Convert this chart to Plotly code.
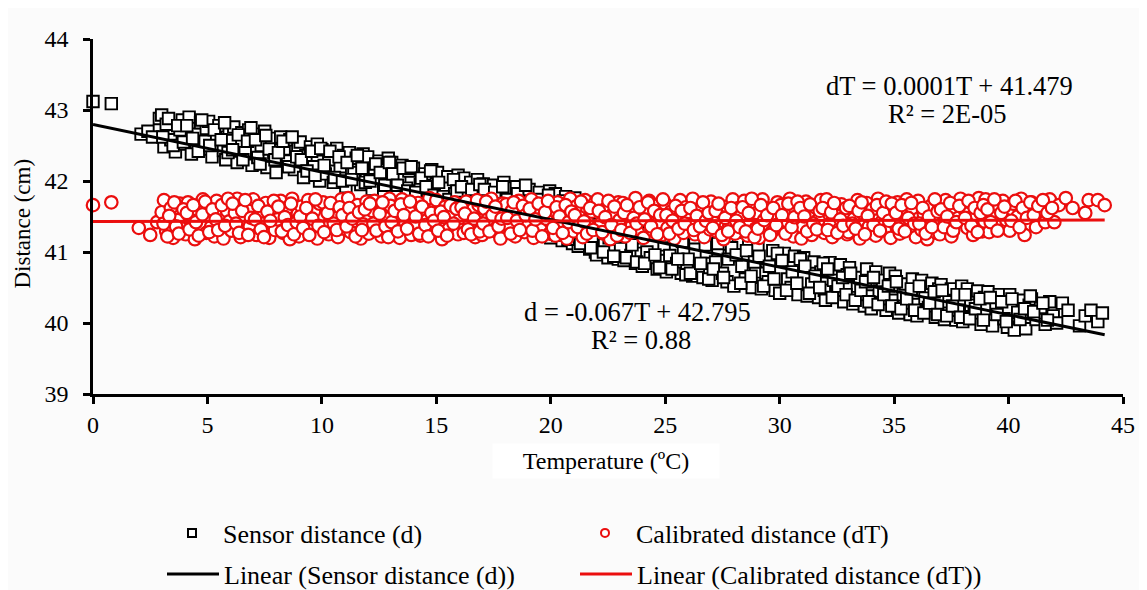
import plotly.graph_objects as go

# ---- Sensor distance (d) readings: temperature (ºC) and distance (cm) ----
sensor_T = [
    0.0, 0.8,
    2.1, 2.4, 2.6, 2.9,
    3.0, 3.1, 3.2, 3.4, 3.6, 3.8, 3.9,
    4.0, 4.2, 4.3, 4.5, 4.7, 4.8, 4.95,
    5.05, 5.2, 5.35, 5.5, 5.7, 5.8, 5.95,
    6.0, 6.15, 6.3, 6.5, 6.65, 6.8, 6.95,
    7.05, 7.2, 7.35, 7.5, 7.6, 7.8, 7.9,
    8.0, 8.2, 8.35, 8.5, 8.6, 8.8, 8.95,
    9.05, 9.2, 9.3, 9.5, 9.65, 9.8, 9.9,
    10.0, 10.15, 10.3, 10.5, 10.65, 10.8, 10.95,
    11.05, 11.2, 11.4, 11.5, 11.7, 11.8, 11.95,
    12.0, 12.2, 12.3, 12.5, 12.7, 12.8, 12.9,
    13.05, 13.2, 13.4, 13.5, 13.7, 13.8, 13.95,
    14.0, 14.2, 14.3, 14.5, 14.65, 14.8, 14.95,
    15.05, 15.2, 15.4, 15.5, 15.7, 15.8, 15.95,
    16.0, 16.2, 16.35, 16.5, 16.65, 16.8, 16.95,
    17.05, 17.2, 17.4, 17.5, 17.7, 17.8, 17.95,
    18.0, 18.2, 18.35, 18.5, 18.65, 18.8, 18.95,
    19.05, 19.2, 19.4, 19.5, 19.7, 19.8, 19.95,
    20.0, 20.2, 20.35, 20.5, 20.65, 20.8, 20.95,
    21.05, 21.2, 21.4, 21.5, 21.7, 21.8, 21.95,
    22.0, 22.2, 22.35, 22.5, 22.65, 22.8, 22.95,
    23.05, 23.2, 23.4, 23.5, 23.7, 23.8, 23.95,
    24.0, 24.2, 24.35, 24.5, 24.65, 24.8, 24.95,
    25.05, 25.2, 25.4, 25.5, 25.7, 25.8, 25.95,
    26.0, 26.2, 26.35, 26.5, 26.65, 26.8, 26.95,
    27.05, 27.2, 27.4, 27.5, 27.7, 27.8, 27.95,
    28.0, 28.2, 28.35, 28.5, 28.65, 28.8, 28.95,
    29.05, 29.2, 29.4, 29.5, 29.7, 29.8, 29.95,
    30.0, 30.2, 30.35, 30.5, 30.65, 30.8, 30.95,
    31.05, 31.2, 31.4, 31.5, 31.7, 31.8, 31.95,
    32.0, 32.2, 32.35, 32.5, 32.65, 32.8, 32.95,
    33.05, 33.2, 33.4, 33.5, 33.7, 33.8, 33.95,
    34.0, 34.2, 34.35, 34.5, 34.65, 34.8, 34.95,
    35.05, 35.2, 35.4, 35.5, 35.7, 35.8, 35.95,
    36.0, 36.2, 36.35, 36.5, 36.65, 36.8, 36.95,
    37.05, 37.2, 37.4, 37.5, 37.7, 37.8, 37.95,
    38.0, 38.2, 38.35, 38.5, 38.65, 38.8, 38.95,
    39.1, 39.3, 39.45, 39.6, 39.8, 39.95,
    40.05, 40.25, 40.4, 40.6, 40.75, 40.9,
    41.0, 41.2, 41.4, 41.6, 41.8, 41.95,
    42.1, 42.35, 42.6,
    43.1, 43.35, 43.6,
    43.9, 44.1,
]
sensor_d = [
    43.12, 43.09,
    42.66, 42.70, 42.62, 42.88,
    42.93, 42.48, 42.80, 42.58, 42.41, 42.72, 42.86,
    42.52, 42.90, 42.38, 42.66, 42.82, 42.45, 42.74,
    42.84, 42.34, 42.62, 42.78, 42.43, 42.30, 42.70,
    42.57, 42.76, 42.26, 42.68, 42.40, 42.72, 42.22,
    42.66, 42.33, 42.50, 42.70, 42.19, 42.60, 42.40,
    42.12, 42.62, 42.45, 42.28, 42.58, 42.16, 42.50,
    42.55, 42.05, 42.36, 42.48, 42.20, 42.52, 42.00,
    42.44, 42.10, 42.30, 41.98, 42.46, 42.20, 42.36,
    41.92, 42.40, 42.12, 42.32, 41.95, 42.38, 42.05,
    42.34, 41.88, 42.18, 42.28, 41.86, 42.08, 42.32,
    42.26, 41.82, 42.02, 42.22, 41.90, 42.14, 41.80,
    42.18, 41.75, 41.95, 42.10, 41.72, 42.16, 41.88,
    42.12, 41.68, 41.92, 42.06, 41.64, 41.82, 42.08,
    41.58, 42.04, 41.80, 41.98, 41.55, 42.02, 41.72,
    41.96, 41.50, 41.74, 41.94, 41.46, 41.65, 41.98,
    41.90, 41.40, 41.62, 41.92, 41.36, 41.55, 41.86,
    41.88, 41.30, 41.52, 41.84, 41.26, 41.45, 41.86,
    41.20, 41.82, 41.40, 41.16, 41.78, 41.30, 41.12,
    41.76, 41.08, 41.25, 41.70, 41.04, 41.18, 41.00,
    40.96, 41.68, 41.10, 40.92, 41.30, 41.02, 40.90,
    41.05, 40.88, 41.58, 40.95, 40.84, 41.20, 40.98,
    40.80, 41.00, 40.92, 41.50, 40.76, 40.88, 41.10,
    40.72, 40.95, 41.40, 40.84, 40.70, 41.05, 40.78,
    40.90, 40.66, 41.30, 40.80, 40.64, 41.00, 40.74,
    40.60, 40.86, 41.22, 40.70, 40.58, 40.95, 41.18,
    40.52, 41.12, 40.80, 40.62, 41.08, 40.50, 40.72,
    41.05, 40.48, 40.70, 40.58, 41.02, 40.46, 40.88,
    40.42, 40.98, 40.62, 40.50, 40.94, 40.40, 40.80,
    40.92, 40.38, 40.55, 40.86, 40.36, 40.72, 40.46,
    40.32, 40.85, 40.60, 40.44, 40.82, 40.30, 40.68,
    40.78, 40.27, 40.52, 40.64, 40.24, 40.76, 40.38,
    40.20, 40.72, 40.45, 40.60, 40.18, 40.70, 40.32,
    40.66, 40.14, 40.40, 40.55, 40.12, 40.62, 40.26,
    40.10, 40.60, 40.35, 40.22, 40.56, 40.08, 40.48,
    40.54, 40.05, 40.30, 40.48, 40.04, 40.18, 40.52,
    40.02, 40.48, 40.25, 40.12, 40.45, 39.98, 40.36,
    40.44, 39.96, 40.20, 40.40, 40.06, 39.94,
    40.40, 39.90, 40.15, 40.32, 39.92, 40.25,
    40.34, 40.05, 40.22, 39.98, 40.30, 40.10,
    40.00, 40.28, 40.18,
    39.96, 40.10, 40.18,
    40.02, 40.14,
]
# further sensor readings (second pass over the same temperature range)
sensor_T_b = [
    3.05, 3.3, 3.5, 3.7, 3.95,
    4.1, 4.35, 4.6, 4.75, 4.9,
    5.1, 5.3, 5.6, 5.75, 5.9,
    6.1, 6.35, 6.55, 6.75, 6.9,
    7.1, 7.3, 7.55, 7.7, 7.95,
    8.1, 8.3, 8.55, 8.7, 8.9,
    9.1, 9.35, 9.55, 9.7, 9.95,
    10.1, 10.35, 10.55, 10.75, 10.9,
    11.1, 11.3, 11.55, 11.75, 11.9,
    12.1, 12.35, 12.55, 12.75, 12.95,
    13.1, 13.3, 13.55, 13.75, 13.9,
    14.1, 14.35, 14.55, 14.75, 14.9,
    15.1, 15.3, 15.55, 15.75, 15.9,
    16.1, 16.3, 16.55, 16.75, 16.9,
    17.1, 17.3, 17.55, 17.75, 17.9,
    18.1, 18.3, 18.55, 18.75, 18.9,
    19.1, 19.3, 19.55, 19.75, 19.9,
    20.1, 20.3, 20.55, 20.75, 20.9,
    21.1, 21.3, 21.55, 21.75, 21.9,
    22.1, 22.3, 22.55, 22.75, 22.9,
    23.1, 23.3, 23.55, 23.75, 23.9,
    24.1, 24.3, 24.55, 24.75, 24.9,
    25.1, 25.3, 25.55, 25.75, 25.9,
    26.1, 26.3, 26.55, 26.75, 26.9,
    27.1, 27.3, 27.55, 27.75, 27.9,
    28.1, 28.3, 28.55, 28.75, 28.9,
    29.1, 29.3, 29.55, 29.75, 29.9,
    30.1, 30.3, 30.55, 30.75, 30.9,
    31.1, 31.3, 31.55, 31.75, 31.9,
    32.1, 32.3, 32.55, 32.75, 32.9,
    33.1, 33.3, 33.55, 33.75, 33.9,
    34.1, 34.3, 34.55, 34.75, 34.9,
    35.1, 35.3, 35.55, 35.75, 35.9,
    36.1, 36.3, 36.55, 36.75, 36.9,
    37.1, 37.3, 37.55, 37.75, 37.9,
    38.1, 38.3, 38.55, 38.75, 38.9,
    39.2, 39.5, 39.7, 39.9,
    40.15, 40.5, 40.7, 40.95,
    41.1, 41.5, 41.7,
]
sensor_d_b = [
    42.62, 42.88, 42.50, 42.78, 42.55,
    42.78, 42.60, 42.42, 42.86, 42.56,
    42.50, 42.72, 42.58, 42.82, 42.40,
    42.44, 42.65, 42.30, 42.56, 42.75,
    42.58, 42.24, 42.64, 42.45, 42.30,
    42.40, 42.56, 42.20, 42.62, 42.34,
    42.30, 42.14, 42.42, 42.08, 42.46,
    42.22, 42.42, 42.05, 42.34, 42.00,
    42.26, 42.02, 42.36, 42.18, 41.98,
    42.00, 42.24, 42.12, 41.94, 42.26,
    42.10, 41.94, 42.18, 41.86, 42.20,
    41.84, 42.04, 41.92, 42.14, 41.80,
    41.98, 41.78, 41.74, 42.02, 41.86,
    41.92, 41.66, 41.88, 41.62, 41.95,
    41.88, 41.60, 41.84, 41.56, 41.92,
    41.74, 41.50, 41.82, 41.46, 41.94,
    41.62, 41.36, 41.74, 41.40, 41.80,
    41.60, 41.24, 41.72, 41.18, 41.50,
    41.40, 41.12, 41.62, 41.06, 41.34,
    41.55, 41.00, 41.20, 40.94, 41.62,
    41.45, 40.92, 41.10, 40.86, 41.30,
    40.84, 41.36, 40.96, 40.78, 41.22,
    41.30, 40.76, 40.90, 41.15, 40.68,
    40.70, 41.20, 40.84, 41.10, 40.62,
    40.76, 41.12, 40.64, 40.90, 41.06,
    40.96, 40.56, 41.02, 40.66, 40.86,
    40.94, 40.52, 40.80, 40.62, 40.98,
    40.88, 40.46, 40.72, 40.56, 40.90,
    40.80, 40.42, 40.66, 40.50, 40.84,
    40.76, 40.36, 40.52, 40.64, 40.40,
    40.70, 40.32, 40.46, 40.58, 40.30,
    40.64, 40.26, 40.40, 40.52, 40.24,
    40.58, 40.20, 40.34, 40.48, 40.18,
    40.52, 40.14, 40.28, 40.44, 40.12,
    40.46, 40.10, 40.24, 40.40, 40.08,
    40.40, 40.06, 40.20, 40.34, 40.04,
    40.36, 40.12, 40.30, 40.02,
    40.34, 40.05, 40.20, 40.38,
    40.16, 40.28, 40.04,
]

# ---- Calibrated distance (dT) readings ----
calib_T = [
    0.0, 0.8,
    2.0, 2.5, 2.8,
    3.0, 3.1, 3.2, 3.4, 3.5, 3.7, 3.8, 3.9,
    4.05, 4.15, 4.3, 4.45, 4.55, 4.7, 4.8, 4.95,
    5.0, 5.15, 5.3, 5.4, 5.55, 5.7, 5.85, 5.95,
    6.05, 6.2, 6.3, 6.45, 6.6, 6.7, 6.85, 6.95,
    7.0, 7.15, 7.25, 7.4, 7.55, 7.7, 7.8, 7.95,
    8.05, 8.2, 8.3, 8.45, 8.6, 8.7, 8.85, 8.95,
    9.0, 9.1, 9.25, 9.4, 9.5, 9.65, 9.8, 9.9,
    10.05, 10.2, 10.3, 10.45, 10.6, 10.7, 10.85, 10.95,
    11.0, 11.15, 11.25, 11.4, 11.55, 11.7, 11.8, 11.95,
    12.05, 12.2, 12.3, 12.45, 12.6, 12.7, 12.85, 12.95,
    13.0, 13.1, 13.25, 13.4, 13.5, 13.65, 13.8, 13.9,
    14.05, 14.2, 14.3, 14.45, 14.6, 14.7, 14.85, 14.95,
    15.0, 15.15, 15.25, 15.4, 15.55, 15.7, 15.8, 15.95,
    16.05, 16.2, 16.3, 16.45, 16.6, 16.7, 16.85, 16.95,
    17.0, 17.1, 17.25, 17.4, 17.5, 17.65, 17.8, 17.9,
    18.05, 18.2, 18.3, 18.45, 18.6, 18.7, 18.85, 18.95,
    19.0, 19.15, 19.25, 19.4, 19.55, 19.7, 19.8, 19.95,
    20.05, 20.2, 20.3, 20.45, 20.6, 20.7, 20.85, 20.95,
    21.0, 21.1, 21.25, 21.4, 21.5, 21.65, 21.8, 21.9,
    22.05, 22.2, 22.3, 22.45, 22.6, 22.7, 22.85, 22.95,
    23.0, 23.15, 23.25, 23.4, 23.55, 23.7, 23.8, 23.95,
    24.05, 24.2, 24.3, 24.45, 24.6, 24.7, 24.85, 24.95,
    25.0, 25.1, 25.25, 25.4, 25.5, 25.65, 25.8, 25.9,
    26.05, 26.2, 26.3, 26.45, 26.6, 26.7, 26.85, 26.95,
    27.0, 27.15, 27.25, 27.4, 27.55, 27.7, 27.8, 27.95,
    28.05, 28.2, 28.3, 28.45, 28.6, 28.7, 28.85, 28.95,
    29.0, 29.1, 29.25, 29.4, 29.5, 29.65, 29.8, 29.9,
    30.05, 30.2, 30.3, 30.45, 30.6, 30.7, 30.85, 30.95,
    31.0, 31.15, 31.25, 31.4, 31.55, 31.7, 31.8, 31.95,
    32.05, 32.2, 32.3, 32.45, 32.6, 32.7, 32.85, 32.95,
    33.0, 33.1, 33.25, 33.4, 33.5, 33.65, 33.8, 33.9,
    34.05, 34.2, 34.3, 34.45, 34.6, 34.7, 34.85, 34.95,
    35.0, 35.15, 35.25, 35.4, 35.55, 35.7, 35.8, 35.95,
    36.05, 36.2, 36.3, 36.45, 36.6, 36.7, 36.85, 36.95,
    37.0, 37.1, 37.25, 37.4, 37.5, 37.65, 37.8, 37.9,
    38.05, 38.2, 38.3, 38.45, 38.6, 38.7, 38.85, 38.95,
    39.0, 39.15, 39.3, 39.45, 39.6, 39.75, 39.9,
    40.05, 40.2, 40.4, 40.55, 40.7, 40.85,
    41.0, 41.2, 41.4, 41.6, 41.8,
    42.0, 42.2, 42.5, 42.8,
    43.35, 43.5, 43.9,
    44.2,
]
calib_d = [
    41.66, 41.70,
    41.34, 41.24, 41.42,
    41.56, 41.73, 41.29, 41.62, 41.20, 41.45, 41.68, 41.33,
    41.25, 41.70, 41.48, 41.18, 41.60, 41.38, 41.74, 41.27,
    41.66, 41.35, 41.22, 41.72, 41.50, 41.19, 41.58, 41.43,
    41.30, 41.55, 41.75, 41.21, 41.44, 41.67, 41.36, 41.62,
    41.74, 41.24, 41.52, 41.40, 41.69, 41.20, 41.58, 41.31,
    41.46, 41.72, 41.27, 41.61, 41.18, 41.75, 41.35, 41.54,
    41.22, 41.64, 41.42, 41.73, 41.30, 41.57, 41.19, 41.68,
    41.70, 41.37, 41.25, 41.60, 41.48, 41.21, 41.74, 41.33,
    41.52, 41.76, 41.28, 41.44, 41.66, 41.19, 41.39, 41.71,
    41.26, 41.58, 41.72, 41.34, 41.22, 41.63, 41.47, 41.75,
    41.65, 41.31, 41.50, 41.20, 41.74, 41.41, 41.60, 41.24,
    41.36, 41.69, 41.23, 41.56, 41.45, 41.76, 41.29, 41.62,
    41.73, 41.42, 41.18, 41.64, 41.33, 41.53, 41.70, 41.25,
    41.48, 41.27, 41.71, 41.39, 41.60, 41.21, 41.66, 41.44,
    41.24, 41.61, 41.46, 41.75, 41.30, 41.55, 41.19, 41.68,
    41.67, 41.35, 41.58, 41.22, 41.72, 41.43, 41.28, 41.62,
    41.40, 41.74, 41.20, 41.55, 41.32, 41.66, 41.47, 41.26,
    41.59, 41.23, 41.70, 41.38, 41.51, 41.19, 41.75, 41.44,
    41.29, 41.64, 41.49, 41.21, 41.73, 41.36, 41.57, 41.68,
    41.74, 41.41, 41.26, 41.62, 41.18, 41.53, 41.33, 41.70,
    41.45, 41.69, 41.22, 41.58, 41.37, 41.76, 41.28, 41.51,
    41.20, 41.54, 41.72, 41.31, 41.65, 41.42, 41.24, 41.61,
    41.68, 41.34, 41.57, 41.19, 41.46, 41.73, 41.27, 41.63,
    41.39, 41.75, 41.25, 41.60, 41.48, 41.21, 41.66, 41.32,
    41.71, 41.43, 41.29, 41.56, 41.18, 41.64, 41.37, 41.74,
    41.26, 41.62, 41.50, 41.72, 41.23, 41.41, 41.68, 41.33,
    41.55, 41.20, 41.74, 41.36, 41.61, 41.28, 41.47, 41.70,
    41.66, 41.30, 41.44, 41.75, 41.22, 41.58, 41.39, 41.19,
    41.35, 41.71, 41.56, 41.24, 41.63, 41.45, 41.73, 41.27,
    41.74, 41.40, 41.21, 41.59, 41.32, 41.67, 41.50, 41.25,
    41.28, 41.62, 41.47, 41.73, 41.19, 41.54, 41.69, 41.36,
    41.60, 41.23, 41.75, 41.42, 41.30, 41.66, 41.20, 41.52,
    41.44, 41.70, 41.26, 41.58, 41.74, 41.34, 41.62, 41.21,
    41.72, 41.31, 41.53, 41.18, 41.65, 41.45, 41.27, 41.69,
    41.25, 41.57, 41.73, 41.38, 41.22, 41.63, 41.48, 41.75,
    41.61, 41.34, 41.70, 41.24, 41.52, 41.76, 41.29, 41.43,
    41.74, 41.28, 41.56, 41.67, 41.36, 41.72, 41.45,
    41.30, 41.68, 41.50, 41.75, 41.24, 41.60,
    41.70, 41.35, 41.58, 41.42, 41.74,
    41.42, 41.66, 41.76, 41.62,
    41.55, 41.73, 41.73,
    41.66,
]
# further calibrated readings (second pass over the same temperature range)
calib_T_b = [
    3.08, 3.25, 3.33, 3.55, 3.63, 3.75, 3.95,
    4.1, 4.22, 4.38, 4.5, 4.62, 4.78, 4.9,
    5.08, 5.22, 5.36, 5.47, 5.63, 5.77, 5.9,
    6.1, 6.25, 6.38, 6.52, 6.65, 6.78, 6.9,
    7.08, 7.22, 7.33, 7.47, 7.62, 7.75, 7.9,
    8.1, 8.25, 8.38, 8.52, 8.65, 8.78, 8.9,
    9.05, 9.18, 9.32, 9.45, 9.58, 9.72, 9.85,
    10.1, 10.25, 10.38, 10.52, 10.65, 10.78, 10.9,
    11.08, 11.2, 11.33, 11.47, 11.62, 11.75, 11.88,
    12.1, 12.25, 12.38, 12.52, 12.65, 12.78, 12.9,
    13.05, 13.18, 13.32, 13.45, 13.58, 13.72, 13.85,
    14.1, 14.25, 14.38, 14.52, 14.65, 14.78, 14.9,
    15.08, 15.2, 15.33, 15.47, 15.62, 15.75, 15.88,
    16.1, 16.25, 16.38, 16.52, 16.65, 16.78, 16.9,
    17.05, 17.18, 17.32, 17.45, 17.58, 17.72, 17.85,
    18.1, 18.25, 18.38, 18.52, 18.65, 18.78, 18.9,
    19.08, 19.2, 19.33, 19.47, 19.62, 19.75, 19.88,
    20.1, 20.25, 20.38, 20.52, 20.65, 20.78, 20.9,
    21.05, 21.18, 21.32, 21.45, 21.58, 21.72, 21.85,
    22.1, 22.25, 22.38, 22.52, 22.65, 22.78, 22.9,
    23.08, 23.2, 23.33, 23.47, 23.62, 23.75, 23.88,
    24.1, 24.25, 24.38, 24.52, 24.65, 24.78, 24.9,
    25.05, 25.18, 25.32, 25.45, 25.58, 25.72, 25.85,
    26.1, 26.25, 26.38, 26.52, 26.65, 26.78, 26.9,
    27.08, 27.2, 27.33, 27.47, 27.62, 27.75, 27.88,
    28.1, 28.25, 28.38, 28.52, 28.65, 28.78, 28.9,
    29.05, 29.18, 29.32, 29.45, 29.58, 29.72, 29.85,
    30.1, 30.25, 30.38, 30.52, 30.65, 30.78, 30.9,
    31.08, 31.2, 31.33, 31.47, 31.62, 31.75, 31.88,
    32.1, 32.25, 32.38, 32.52, 32.65, 32.78, 32.9,
    33.05, 33.18, 33.32, 33.45, 33.58, 33.72, 33.85,
    34.1, 34.25, 34.38, 34.52, 34.65, 34.78, 34.9,
    35.08, 35.2, 35.33, 35.47, 35.62, 35.75, 35.88,
    36.1, 36.25, 36.38, 36.52, 36.65, 36.78, 36.9,
    37.05, 37.18, 37.32, 37.45, 37.58, 37.72, 37.85,
    38.1, 38.25, 38.38, 38.52, 38.65, 38.78, 38.9,
    39.08, 39.22, 39.38, 39.52, 39.68, 39.82,
    40.12, 40.3, 40.48, 40.62, 40.8, 40.95,
    41.1, 41.3, 41.5, 41.7, 41.9,
]
calib_d_b = [
    41.40, 41.22, 41.51, 41.70, 41.36, 41.26, 41.60,
    41.55, 41.32, 41.66, 41.42, 41.23, 41.53, 41.71,
    41.28, 41.60, 41.46, 41.31, 41.66, 41.37, 41.75,
    41.68, 41.40, 41.27, 41.58, 41.73, 41.24, 41.48,
    41.46, 41.65, 41.32, 41.21, 41.57, 41.44, 41.72,
    41.64, 41.29, 41.49, 41.38, 41.68, 41.25, 41.42,
    41.50, 41.34, 41.62, 41.24, 41.47, 41.74, 41.37,
    41.28, 41.55, 41.69, 41.40, 41.31, 41.63, 41.52,
    41.36, 41.62, 41.47, 41.22, 41.56, 41.31, 41.60,
    41.68, 41.40, 41.30, 41.54, 41.70, 41.36, 41.21,
    41.42, 41.58, 41.29, 41.67, 41.52, 41.33, 41.71,
    41.50, 41.26, 41.64, 41.38, 41.22, 41.55, 41.44,
    41.30, 41.57, 41.49, 41.23, 41.66, 41.40, 41.61,
    41.63, 41.54, 41.32, 41.25, 41.47, 41.73, 41.29,
    41.40, 41.71, 41.29, 41.52, 41.64, 41.36, 41.47,
    41.48, 41.26, 41.70, 41.44, 41.31, 41.65, 41.52,
    41.61, 41.30, 41.46, 41.68, 41.22, 41.56, 41.72,
    41.34, 41.63, 41.50, 41.27, 41.66, 41.42, 41.57,
    41.52, 41.35, 41.71, 41.43, 41.26, 41.62, 41.31,
    41.58, 41.28, 41.49, 41.72, 41.38, 41.64, 41.23,
    41.31, 41.55, 41.66, 41.27, 41.48, 41.40, 41.63,
    41.46, 41.70, 41.36, 41.58, 41.25, 41.52, 41.74,
    41.52, 41.26, 41.44, 41.65, 41.33, 41.58, 41.40,
    41.62, 41.31, 41.51, 41.36, 41.70, 41.44, 41.55,
    41.34, 41.58, 41.68, 41.24, 41.48, 41.29, 41.62,
    41.44, 41.35, 41.63, 41.29, 41.55, 41.75, 41.21,
    41.33, 41.66, 41.45, 41.52, 41.24, 41.62, 41.38,
    41.52, 41.26, 41.68, 41.35, 41.49, 41.71, 41.62,
    41.50, 41.29, 41.67, 41.40, 41.32, 41.58, 41.62,
    41.31, 41.56, 41.69, 41.27, 41.46, 41.37, 41.62,
    41.65, 41.40, 41.33, 41.58, 41.70, 41.25, 41.51,
    41.38, 41.66, 41.30, 41.55, 41.71, 41.44, 41.68,
    41.55, 41.33, 41.66, 41.29, 41.48, 41.69, 41.40,
    41.40, 41.62, 41.26, 41.50, 41.35, 41.74, 41.57,
    41.60, 41.35, 41.50, 41.69, 41.30, 41.42, 41.65,
    41.48, 41.72, 41.37, 41.62, 41.28, 41.55, 41.66,
    41.60, 41.42, 41.74, 41.30, 41.55, 41.64,
    41.44, 41.72, 41.35, 41.62, 41.48, 41.70,
    41.52, 41.65, 41.73, 41.55, 41.62,
]

# ---- Linear trend lines (end points) ----
fit_T = [0.0, 44.2]
sensor_fit = [42.795, 39.834]
calib_fit = [41.43, 41.45]

# ---- Axis ticks and texts ----
x_ticks = [0, 5, 10, 15, 20, 25, 30, 35, 40, 45]
y_ticks = [39, 40, 41, 42, 43, 44]
eq_calib = ["dT = 0.0001T + 41.479", "R² = 2E-05"]
eq_sensor = ["d = -0.067T + 42.795", "R² = 0.88"]

FONT = "Liberation Serif, Times New Roman, serif"
RED = "rgb(235,14,14)"

# figure is placed 8 px from the page corner (default body margin);
# it is made slightly taller than the window so the lower legend row is not clipped
W, H = 1139, 600
ML, MR, MT = 85, 16, 31
PLOT_BOTTOM = 386
MB = H - PLOT_BOTTOM
PW, PH = W - ML - MR, H - MT - MB


def px_x(page_x):  # page pixel -> paper x
    return (page_x - 8 - ML) / PW


def px_y(page_y):  # page pixel -> paper y
    return (H - MB - (page_y - 8)) / PH


def cont_y(page_y):  # page pixel -> container y
    return (H - (page_y - 8)) / H


fig = go.Figure()
fig.add_trace(go.Scatter(
    x=sensor_T + sensor_T_b, y=sensor_d + sensor_d_b, mode="markers",
    showlegend=False, cliponaxis=False,
    marker=dict(symbol="square", size=11.5, color="white",
                line=dict(color="black", width=1.9))))
fig.add_trace(go.Scatter(
    x=calib_T + calib_T_b, y=calib_d + calib_d_b, mode="markers",
    showlegend=False, cliponaxis=False,
    marker=dict(symbol="circle", size=12.5, color="white",
                line=dict(color=RED, width=2.2))))
fig.add_trace(go.Scatter(
    x=fit_T, y=sensor_fit, mode="lines", showlegend=False,
    line=dict(color="black", width=3)))
fig.add_trace(go.Scatter(
    x=fit_T, y=calib_fit, mode="lines", showlegend=False,
    line=dict(color=RED, width=3)))

# legend entries
fig.add_trace(go.Scatter(
    x=[None], y=[None], mode="markers", name="Sensor distance (d)", legend="legend",
    marker=dict(symbol="square", size=8, color="white", line=dict(color="black", width=2))))
fig.add_trace(go.Scatter(
    x=[None], y=[None], mode="markers", name="Calibrated distance (dT)", legend="legend",
    marker=dict(symbol="circle", size=8, color="white", line=dict(color=RED, width=2))))
fig.add_trace(go.Scatter(
    x=[None], y=[None], mode="lines", name="Linear (Sensor distance (d))", legend="legend2",
    line=dict(color="black", width=3)))
fig.add_trace(go.Scatter(
    x=[None], y=[None], mode="lines", name="Linear (Calibrated distance (dT))", legend="legend2",
    line=dict(color=RED, width=3)))

axis_common = dict(
    showgrid=False, zeroline=False, showline=True, linecolor="black", linewidth=2.5,
    ticks="outside", ticklen=7, tickwidth=2.5, tickcolor="black",
    tickfont=dict(family=FONT, size=24, color="black"),
)
fig.update_xaxes(range=[0, 45], tickvals=x_ticks, **axis_common)
fig.update_yaxes(range=[39, 44], tickvals=y_ticks, ticklabelstandoff=10, **axis_common)

legend_common = dict(
    orientation="h", xref="container", yref="container", xanchor="left", yanchor="middle",
    entrywidth=346, entrywidthmode="pixels", itemwidth=52, bgcolor="rgba(0,0,0,0)",
    font=dict(family=FONT, size=26, color="black"), tracegroupgap=0,
)
ann_font = dict(family=FONT, size=26.5, color="black")
fig.update_layout(
    width=W, height=H,
    margin=dict(l=ML, r=MR, t=MT, b=MB),
    paper_bgcolor="#fbfbfb", plot_bgcolor="#fbfbfb",
    font=dict(family=FONT, color="black"),
    showlegend=True,
    legend=dict(x=(161 - 8) / W, y=cont_y(533), **legend_common),
    legend2=dict(x=(162 - 8) / W, y=cont_y(574), **legend_common),
    annotations=[
        dict(text="Temperature (ºC)", xref="paper", yref="paper", x=px_x(610), y=px_y(461),
             showarrow=False, font=dict(family=FONT, size=24, color="black"),
             xanchor="center", yanchor="middle", bgcolor="white", width=224, height=32),
        dict(text="Distance (cm)", xref="paper", yref="paper", x=px_x(21), y=px_y(224),
             textangle=-90, showarrow=False, font=dict(family=FONT, size=23, color="black"),
             xanchor="center", yanchor="middle"),
        dict(text=eq_calib[0], x=37.4, y=43.34, showarrow=False, font=ann_font,
             xanchor="center", yanchor="middle"),
        dict(text=eq_calib[1], x=37.35, y=42.94, showarrow=False, font=ann_font,
             xanchor="center", yanchor="middle"),
        dict(text=eq_sensor[0], x=23.8, y=40.155, showarrow=False, font=ann_font,
             xanchor="center", yanchor="middle"),
        dict(text=eq_sensor[1], x=23.93, y=39.76, showarrow=False, font=ann_font,
             xanchor="center", yanchor="middle"),
    ],
)

fig.write_html("out.html")
